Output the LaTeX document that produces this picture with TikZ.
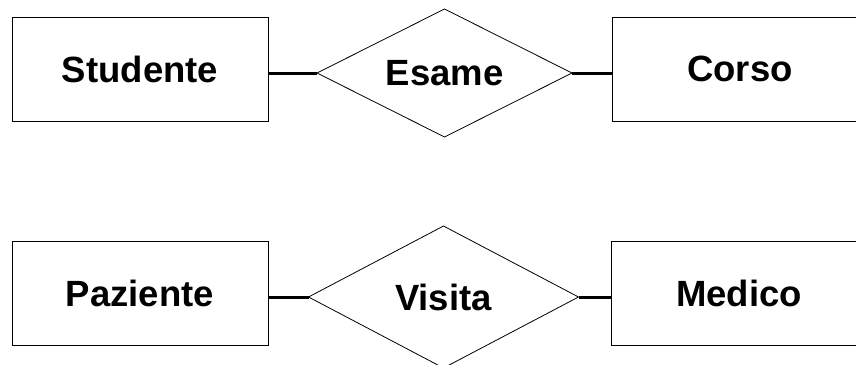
\documentclass[tikz,border=0pt]{standalone}
\usepackage{fontspec}
\setmainfont{Liberation Sans}
\usetikzlibrary{shapes.geometric}
\begin{document}
\begin{tikzpicture}[x=1pt,y=-1pt,
  entity/.style={draw=black,line width=0.9pt,rectangle,minimum width=256pt,minimum height=104pt,inner sep=0pt,outer sep=0pt,font=\fontsize{36.5}{40}\selectfont\bfseries},
  relation/.style={draw=black,line width=0.8pt,diamond,shape aspect=2,inner sep=0pt,outer sep=0pt,font=\fontsize{36.5}{40}\selectfont\bfseries},
  link/.style={line width=3pt,black}]
\useasboundingbox (0,0) rectangle (856,364);
\clip (0,0) rectangle (856,364);
\node[entity] (studente) at (140,69) {Studente};
\node[relation,minimum width=255pt,minimum height=128pt] (esame) at (444.5,73) {Esame};
\node[entity] (corso) at (740,69) {Corso};
\node[entity] (paziente) at (140,293) {Paziente};
\node[relation,minimum width=270pt,minimum height=142pt] (visita) at (443.5,297) {Visita};
\node[entity] (medico) at (739,293.5) {Medico};
\draw[link] (studente.east |- esame.west) -- (esame.west);
\draw[link] (esame.east) -- (corso.west |- esame.east);
\draw[link] (paziente.east |- visita.west) -- (visita.west);
\draw[link] (visita.east) -- (medico.west |- visita.east);
\end{tikzpicture}
\end{document}
